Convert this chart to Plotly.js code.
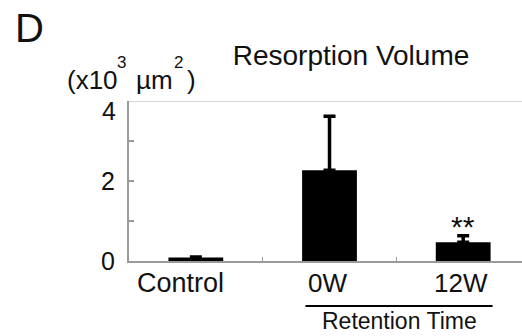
<!DOCTYPE html>
<html>
<head>
<meta charset="utf-8">
<script src="https://cdn.plot.ly/plotly-3.0.1.min.js"></script>
<style>html,body{margin:0;padding:0;background:#fff;}#chart{width:522px;height:336px;}</style>
</head>
<body>
<div id="chart"></div>
<script>
const categories = ['Control', '0W', '12W'];
const values = [0.09, 2.27, 0.47];
const errorsUp = [0.01, 1.35, 0.16];
const yTickVals = [0, 1, 2, 3, 4];
const yTickText = ['0', '', '2', '', '4'];
const significance = ['', '', '**'];
const titleText = 'Resorption Volume';
// unit label "(x10³ µm²)" split into pieces so the superscripts sit as high as in the reference
const unitParts = [
  {text: '(x10', px: 65, sup: false},
  {text: '3', px: 115, sup: true},
  {text: 'µm', px: 134, sup: false},
  {text: '2', px: 172, sup: true},
  {text: ')', px: 185, sup: false}
];
const panelLabel = 'D';
const groupLabel = 'Retention Time';

const FONT = 'Arial, "Liberation Sans", sans-serif';
const ink = '#111';
const axisGrey = '#9a9a9a';
const L = 129, PW = 393, T = 101, PH = 160;

const trace = {
  type: 'bar',
  x: categories,
  y: values,
  width: 0.41,
  marker: {color: '#000', line: {width: 0}},
  error_y: {
    type: 'data', symmetric: false, array: errorsUp,
    arrayminus: values.map(() => 0),
    color: '#000', thickness: 3.5, width: 6
  },
  hoverinfo: 'none'
};

// the top y label ("4") sits lower in the reference, so it is drawn as an annotation
const nativeYText = yTickText.map((t, i) => (i === yTickText.length - 1 ? '' : t));

const annotations = [];
categories.forEach((c, i) => {
  annotations.push({
    x: c, xref: 'x', y: 0, yref: 'paper', yanchor: 'middle',
    yshift: -22, xshift: i === 0 ? -15 : -2,
    text: c, showarrow: false, font: {family: FONT, size: i === 0 ? 27 : 26, color: ink}
  });
  if (significance[i]) {
    annotations.push({
      x: c, xref: 'x', y: values[i] + errorsUp[i], yref: 'y', yanchor: 'middle',
      yshift: 9, text: significance[i], showarrow: false,
      font: {family: FONT, size: 30, color: ink}
    });
  }
});
annotations.push({
  x: 0, xref: 'paper', xanchor: 'right', xshift: -11,
  y: yTickVals[yTickVals.length - 1], yref: 'y', yanchor: 'middle', yshift: -10,
  text: yTickText[yTickText.length - 1], showarrow: false,
  font: {family: FONT, size: 25, color: ink}
});
annotations.push({
  x: (13 - L) / PW, xref: 'paper', xanchor: 'left',
  y: 1 + (T - 28) / PH, yref: 'paper', yanchor: 'middle',
  text: panelLabel, showarrow: false, font: {family: FONT, size: 40, color: ink}
});
annotations.push({
  x: 1.52, xref: 'x', y: 0, yref: 'paper', yanchor: 'middle', yshift: -60,
  text: groupLabel, showarrow: false, font: {family: FONT, size: 23, color: ink}
});
unitParts.forEach(p => {
  annotations.push({
    x: (p.px - L) / PW, xref: 'paper', xanchor: 'left',
    y: 1 + (T - (p.sup ? 62 : 80)) / PH, yref: 'paper', yanchor: 'middle',
    text: p.text, showarrow: false,
    font: {family: FONT, size: p.sup ? 17 : 26, color: ink}
  });
});

const layout = {
  width: 522, height: 336,
  margin: {l: L, r: 0, t: T, b: 75, pad: 0},
  paper_bgcolor: '#fff', plot_bgcolor: '#fff',
  showlegend: false,
  font: {family: FONT, color: ink},
  title: {
    text: titleText, font: {family: FONT, size: 28, color: ink},
    xref: 'container', x: 351 / 522, xanchor: 'center',
    yref: 'container', y: 1 - 55 / 336, yanchor: 'middle'
  },
  xaxis: {
    type: 'category', categoryorder: 'array', categoryarray: categories,
    range: [-0.5, 2.44], showgrid: false, zeroline: false,
    showline: true, linecolor: axisGrey, linewidth: 2,
    ticks: 'inside', tickson: 'boundaries', ticklen: 4, tickwidth: 1.5, tickcolor: axisGrey,
    showticklabels: false, fixedrange: true
  },
  yaxis: {
    range: [0, 4], tickvals: yTickVals, ticktext: nativeYText,
    showgrid: false, zeroline: false,
    showline: true, linecolor: axisGrey, linewidth: 2,
    ticks: 'inside', ticklen: 5, tickwidth: 1.5, tickcolor: axisGrey,
    tickfont: {family: FONT, size: 25, color: ink}, ticklabelstandoff: 7,
    fixedrange: true
  },
  shapes: [
    {type: 'line', xref: 'paper', x0: 0, x1: 1, yref: 'y', y0: 4, y1: 4,
     line: {color: '#b0b0b0', width: 1.2}},
    {type: 'line', xref: 'x', x0: 0.82, x1: 2.22, yref: 'paper', y0: -0.281, y1: -0.281,
     line: {color: '#000', width: 2}}
  ],
  annotations: annotations
};

Plotly.newPlot('chart', [trace], layout, {displayModeBar: false, staticPlot: true});
</script>
</body>
</html>
